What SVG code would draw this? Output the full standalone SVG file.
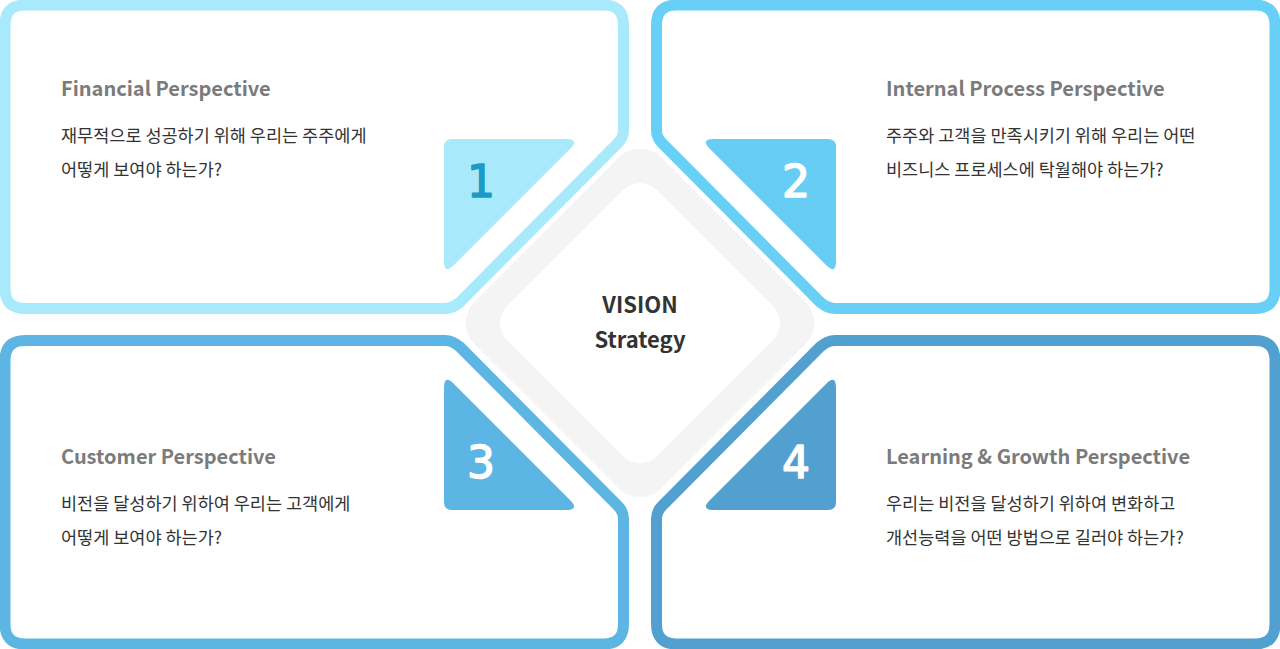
<svg xmlns="http://www.w3.org/2000/svg" width="1280" height="649" viewBox="0 0 1280 649">
<defs>
<style>
text{font-family:"Noto Sans CJK KR","Noto Sans",sans-serif}
.card{fill:#fff;stroke-width:11;stroke-linejoin:round}
.t{font-size:20px;font-weight:bold;fill:#7b7b7b}
.b{font-size:17.5px;fill:#333}
.n{font-family:"DejaVu Sans",sans-serif;font-size:44px;font-weight:normal;text-anchor:middle;stroke-width:1.5;stroke-linejoin:round}
.v{font-size:22px;font-weight:bold;fill:#333;text-anchor:middle}
</style>
<path id="cardShape" d="M25 5 H603.5 Q623.5 5 623.5 25 V130 Q623.5 137.5 618 143 L460 302 Q452.5 308.5 445 308.5 H25 Q5 308.5 5 288.5 V25 Q5 5 25 5 Z"/>
<path id="tri" d="M452 139 H566 Q580 139 570 149 L454 265 Q444 275 444 261 V147 Q444 139 452 139 Z"/>
</defs>
<rect width="1280" height="649" fill="#fff"/>
<g id="center">
<rect x="508" y="191" width="264" height="264" rx="30" fill="#f4f4f4" transform="rotate(45 640 323)"/>
<rect x="534" y="217" width="212" height="212" rx="24" fill="#fff" transform="rotate(45 640 323)"/>
<text class="v" x="640" y="313">VISION</text>
<text class="v" x="640" y="348">Strategy</text>
</g>
<g id="card1">
<use href="#cardShape" class="card" stroke="#a8eafc"/>
<use href="#tri" fill="#a8eafc"/>
<text class="n" x="481" y="197" fill="#1a9cc7" stroke="#1a9cc7">1</text>
<text class="t" x="61" y="96">Financial Perspective</text>
<text class="b" x="61" y="142">재무적으로 성공하기 위해 우리는 주주에게</text>
<text class="b" x="61" y="176">어떻게 보여야 하는가?</text>
</g>
<g id="card2">
<use href="#cardShape" class="card" stroke="#68cff7" transform="matrix(-1 0 0 1 1280 0)"/>
<use href="#tri" fill="#68cdf5" transform="matrix(-1 0 0 1 1280 0)"/>
<text class="n" x="796" y="197" fill="#fff" stroke="#fff">2</text>
<text class="t" x="886" y="96">Internal Process Perspective</text>
<text class="b" x="886" y="142">주주와 고객을 만족시키기 위해 우리는 어떤</text>
<text class="b" x="886" y="176">비즈니스 프로세스에 탁월해야 하는가?</text>
</g>
<g id="card3">
<use href="#cardShape" class="card" stroke="#5db5e3" transform="matrix(1 0 0 -1 0 649)"/>
<use href="#tri" fill="#5db5e3" transform="matrix(1 0 0 -1 0 649)"/>
<text class="n" x="481" y="478" fill="#fff" stroke="#fff">3</text>
<text class="t" x="61" y="464">Customer Perspective</text>
<text class="b" x="61" y="510">비전을 달성하기 위하여 우리는 고객에게</text>
<text class="b" x="61" y="544">어떻게 보여야 하는가?</text>
</g>
<g id="card4">
<use href="#cardShape" class="card" stroke="#52a0d0" transform="matrix(-1 0 0 -1 1280 649)"/>
<use href="#tri" fill="#52a0d0" transform="matrix(-1 0 0 -1 1280 649)"/>
<text class="n" x="796" y="478" fill="#fff" stroke="#fff">4</text>
<text class="t" x="886" y="464">Learning &amp; Growth Perspective</text>
<text class="b" x="886" y="510">우리는 비전을 달성하기 위하여 변화하고</text>
<text class="b" x="886" y="544">개선능력을 어떤 방법으로 길러야 하는가?</text>
</g>
<g id="connectors"/>
</svg>
